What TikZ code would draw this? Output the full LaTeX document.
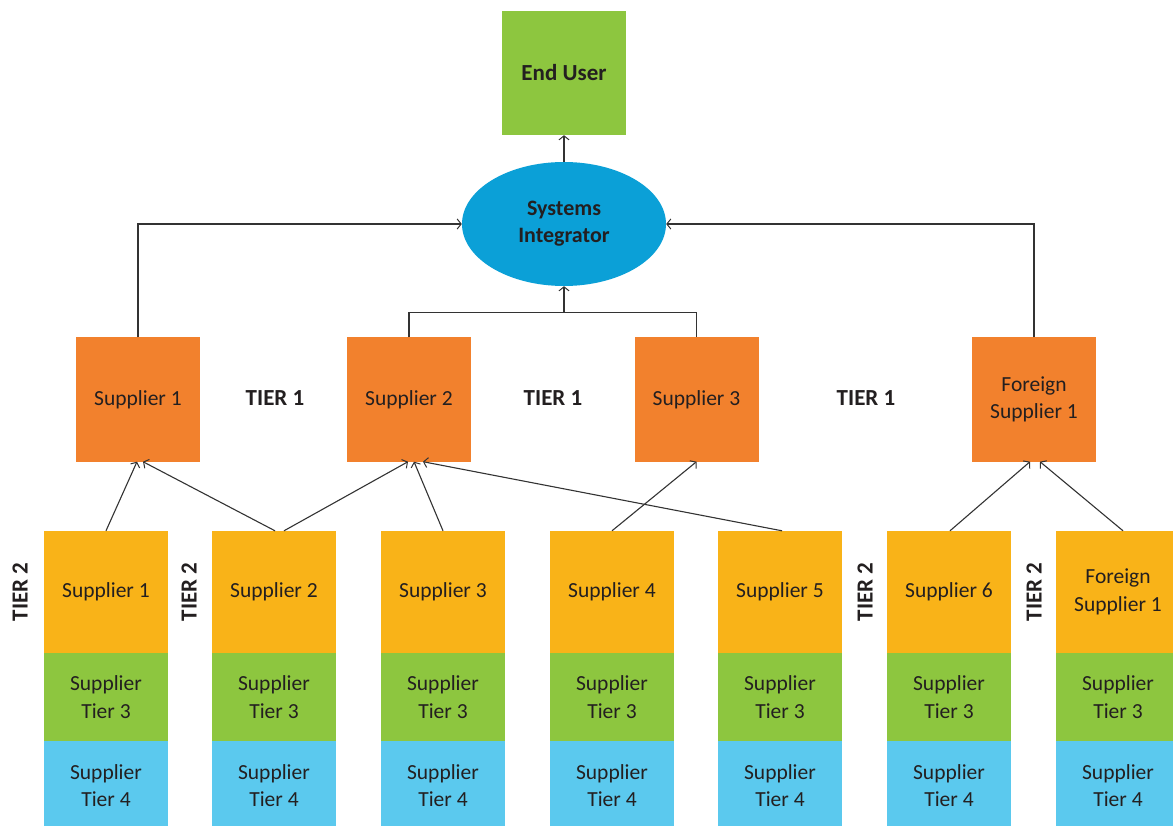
\documentclass[tikz,border=0pt]{standalone}
\usepackage{fontspec}
\setmainfont{Carlito}
\usetikzlibrary{shapes.geometric,arrows.meta}
\definecolor{cgreen}{HTML}{8DC63F}
\definecolor{cblue}{HTML}{0BA0D7}
\definecolor{corange}{HTML}{F2812D}
\definecolor{cyellow}{HTML}{F9B318}
\definecolor{clblue}{HTML}{5BC9EE}
\definecolor{ctext}{HTML}{231F20}
\definecolor{cline}{HTML}{333333}
\begin{document}
\begin{tikzpicture}[x=1pt,y=-1pt,
  every node/.style={text=ctext, font=\fontsize{21.5}{27.5}\selectfont, align=center, inner sep=0pt},
  bx/.style={rectangle, minimum width=124pt, minimum height=124pt},
  tone/.style={bx, fill=corange},
  ttwo/.style={rectangle, minimum width=124pt, minimum height=122pt, fill=cyellow},
  tthree/.style={rectangle, minimum width=124pt, minimum height=88pt, fill=cgreen},
  tfour/.style={rectangle, minimum width=124pt, minimum height=89pt, fill=clblue},
  lbl/.style={font=\bfseries\fontsize{23}{28}\selectfont},
  vlbl/.style={lbl, rotate=90},
  arr/.style={draw=cline, line width=1.1pt, -{Straight Barb[length=4pt,width=10pt,line width=1pt]}},
  ln/.style={draw=cline, line width=1.1pt}
]
\useasboundingbox[fill=white] (0,0) rectangle (1173,826);

% top
\node[bx, fill=cgreen, font=\bfseries\fontsize{23}{28}\selectfont] (eu) at (564,73) {End User};
\node[ellipse, fill=cblue, minimum width=204pt, minimum height=124pt, font=\bfseries\fontsize{22}{27}\selectfont] (si) at (564,224) {Systems\\Integrator};

% tier 1
\node[tone] (s1) at (138,399.5) {Supplier 1};
\node[tone] (s2) at (409,399.5) {Supplier 2};
\node[tone] (s3) at (696.5,399.5) {Supplier 3};
\node[tone] (fs) at (1034,399.5) {Foreign\\Supplier 1};
\node[lbl] (l1) at (275,398) {TIER 1};
\node[lbl] (l2) at (553,398) {TIER 1};
\node[lbl] (l3) at (866,398) {TIER 1};

% tier 2 columns
\foreach \n/\cx/\t in {a/106/Supplier 1, b/274/Supplier 2, c/443/Supplier 3, d/612/Supplier 4, e/780/Supplier 5, f/949/Supplier 6, g/1118/{Foreign\\Supplier 1}}{
  \node[ttwo] (t2\n) at (\cx,592) {\t};
  \node[tthree] (t3\n) at (\cx,697) {Supplier\\Tier 3};
  \node[tfour] (t4\n) at (\cx,785.5) {Supplier\\Tier 4};
}
\node[vlbl] (v1) at (20,592) {TIER 2};
\node[vlbl] (v2) at (189,592) {TIER 2};
\node[vlbl] (v3) at (865,592) {TIER 2};
\node[vlbl] (v4) at (1034,592) {TIER 2};

% connectors to integrator
\draw[arr] (si.north) -- (eu.south);
\draw[arr] (s1.north) |- (si.west);
\draw[arr] (fs.north) |- (si.east);
\coordinate (jl) at ([yshift=25pt]s2.north);
\draw[ln] (s2.north) -- (jl) -| (s3.north);
\draw[arr] (si.south |- jl) -- (si.south);

% tier 2 to tier 1
\draw[arr] (t2a.north) -- ([xshift=-1pt]s1.south);
\draw[arr] ([xshift=1pt]t2b.north) -- ([xshift=5pt]s1.south);
\draw[arr] ([xshift=10pt]t2b.north) -- ([xshift=-1pt]s2.south);
\draw[arr] (t2c.north) -- ([xshift=5pt]s2.south);
\draw[arr] ([xshift=2pt]t2e.north) -- ([xshift=14pt]s2.south);
\draw[arr] (t2d.north) -- (s3.south);
\draw[arr] ([xshift=1pt]t2f.north) -- ([xshift=-4pt]fs.south);
\draw[arr] ([xshift=5pt]t2g.north) -- ([xshift=6pt]fs.south);
\end{tikzpicture}
\end{document}
